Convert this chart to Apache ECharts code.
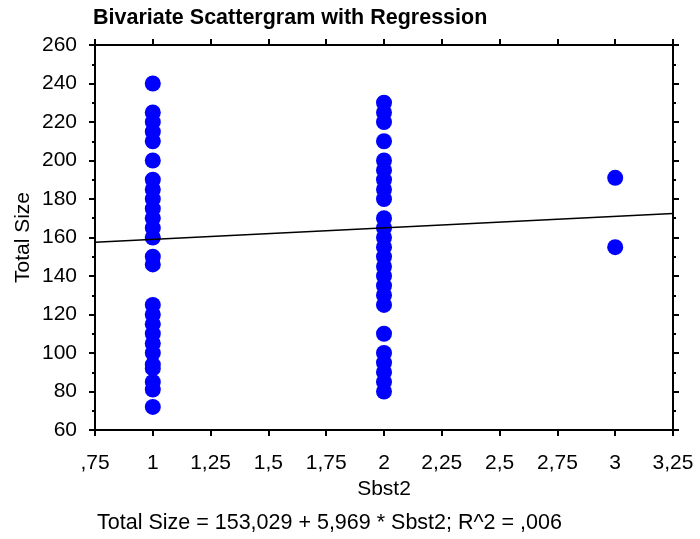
<!DOCTYPE html>
<html>
<head>
<meta charset="utf-8">
<title>Bivariate Scattergram with Regression</title>
<script src="https://cdn.jsdelivr.net/npm/echarts@6/dist/echarts.min.js"></script>
<style>
  html, body { margin: 0; padding: 0; background: #fff; }
  #main { width: 700px; height: 539px; }
</style>
</head>
<body>
<div id="main"></div>
<script>
// 各组 Sbst2 对应的 Total Size 值
var sizeAt1 = [240, 225, 220, 215, 210, 200, 190, 185, 180, 175, 170, 165, 160, 150, 146,
               125, 120, 115, 110, 105, 100, 94, 92, 85, 81, 72];
var sizeAt2 = [230, 225, 220, 210, 200, 195, 190, 185, 180, 170, 165, 160, 155, 150, 145,
               140, 135, 130, 125, 110, 100, 95, 90, 85, 80];
var sizeAt3 = [191, 155];

// 回归系数
var intercept = 153.029;
var slope = 5.969;

// 刻度标签
var xTicks = [0.75, 1, 1.25, 1.5, 1.75, 2, 2.25, 2.5, 2.75, 3, 3.25];
var xTickLabels = [',75', '1', '1,25', '1,5', '1,75', '2', '2,25', '2,5', '2,75', '3', '3,25'];
var yTicks = [60, 80, 100, 120, 140, 160, 180, 200, 220, 240, 260];

var points = [];
sizeAt1.forEach(function (v) { points.push([1, v]); });
sizeAt2.forEach(function (v) { points.push([2, v]); });
sizeAt3.forEach(function (v) { points.push([3, v]); });

var xMin = xTicks[0], xMax = xTicks[xTicks.length - 1];
var fitLine = [[xMin, intercept + slope * xMin], [xMax, intercept + slope * xMax]];

var font = 'Liberation Sans, Arial, sans-serif';
var fs = 21;

function xLabel(v) {
    for (var i = 0; i < xTicks.length; i++) {
        if (Math.abs(xTicks[i] - v) < 1e-6) return xTickLabels[i];
    }
    return '';
}

var lineStyle = { color: '#000', width: 2 };

var myChart = echarts.init(document.getElementById('main'));
var option = {
    backgroundColor: '#fff',
    animation: false,
    title: {
        text: 'Bivariate Scattergram with Regression',
        left: 93,
        top: 7,
        padding: 0,
        textStyle: { fontFamily: font, fontSize: 21.5, fontWeight: 'bold', color: '#000' }
    },
    grid: { left: 95, right: 27, top: 45, bottom: 109 },
    xAxis: [{
        type: 'value',
        position: 'bottom',
        min: xMin, max: xMax, interval: 0.25,
        name: 'Sbst2',
        nameLocation: 'middle',
        nameGap: 48,
        nameTextStyle: { fontFamily: font, fontSize: fs, color: '#000' },
        axisLine: { lineStyle: lineStyle },
        axisTick: { inside: false, length: 6, lineStyle: lineStyle },
        axisLabel: { margin: 23, fontFamily: font, fontSize: fs, color: '#000', formatter: xLabel },
        splitLine: { show: false }
    }, {
        type: 'value',
        position: 'top',
        min: xMin, max: xMax, interval: 0.25,
        axisLine: { lineStyle: lineStyle },
        axisTick: { inside: false, length: 6, lineStyle: lineStyle },
        axisLabel: { show: false },
        splitLine: { show: false }
    }],
    yAxis: [{
        type: 'value',
        position: 'left',
        min: yTicks[0], max: yTicks[yTicks.length - 1], interval: 20,
        name: 'Total Size',
        nameLocation: 'middle',
        nameGap: 61,
        nameMoveOverlap: false,
        nameTextStyle: { fontFamily: font, fontSize: fs, color: '#000' },
        axisLine: { lineStyle: lineStyle },
        axisTick: { inside: false, length: 6, lineStyle: lineStyle },
        minorTick: { show: true, splitNumber: 2, length: 3, lineStyle: { color: '#000', width: 2 } },
        axisLabel: { margin: 18, fontFamily: font, fontSize: fs, color: '#000' },
        splitLine: { show: false }
    }, {
        type: 'value',
        position: 'right',
        min: yTicks[0], max: yTicks[yTicks.length - 1], interval: 20,
        axisLine: { lineStyle: lineStyle },
        axisTick: { inside: false, length: 6, lineStyle: lineStyle },
        minorTick: { show: true, splitNumber: 2, length: 3, lineStyle: { color: '#000', width: 2 } },
        axisLabel: { show: false },
        splitLine: { show: false }
    }],
    series: [{
        name: 'Total Size',
        type: 'scatter',
        xAxisIndex: 0, yAxisIndex: 0,
        symbol: 'circle',
        symbolSize: 16,
        itemStyle: { color: '#0000ff', opacity: 1 },
        data: points,
        z: 3
    }, {
        name: 'Regression',
        type: 'line',
        xAxisIndex: 0, yAxisIndex: 0,
        symbol: 'none',
        silent: true,
        lineStyle: { color: '#000', width: 1.5 },
        data: fitLine,
        z: 4
    }],
    graphic: [{
        type: 'text',
        left: 97,
        top: 512,
        style: {
            text: 'Total Size = 153,029 + 5,969 * Sbst2; R^2 = ,006',
            font: '21.5px ' + font,
            fill: '#000'
        }
    }]
};
myChart.setOption(option);
</script>
</body>
</html>
